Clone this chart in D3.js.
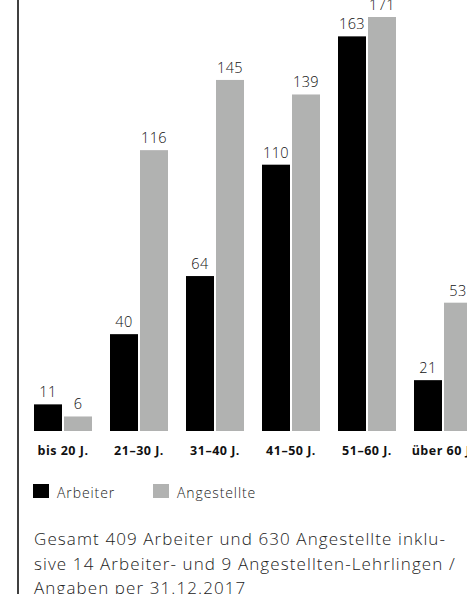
<!DOCTYPE html>
<html>
<head>
<meta charset="utf-8">
<script src="https://cdn.jsdelivr.net/npm/d3@7"></script>
<style>
  html, body { margin: 0; padding: 0; background: #fff; overflow: hidden; }
  svg { display: block; font-family: "Open Sans", sans-serif; }
</style>
</head>
<body>
<div id="chart"></div>
<script>
// chart data
var categories = ['bis 20 J.', '21–30 J.', '31–40 J.', '41–50 J.', '51–60 J.', 'über 60 J.'];
var seriesNames = ['Arbeiter', 'Angestellte'];
var arbeiter = [11, 40, 64, 110, 163, 21];
var angestellte = [6, 116, 145, 139, 171, 53];
var footnote = [
    'Gesamt 409 Arbeiter und 630 Angestellte inklu-',
    'sive 14 Arbeiter- und 9 Angestellten-Lehrlingen /',
    'Angaben per 31.12.2017'
];

var w = 467;
var h = 594;
var colors = { Arbeiter: '#000000', Angestellte: '#b1b2b1' };

var svg = d3.select('#chart')
    .append('svg')
    .attr('width', w)
    .attr('height', h);

// left rule
svg.append('line')
    .attr('x1', 18).attr('x2', 18)
    .attr('y1', 0).attr('y2', h)
    .attr('stroke', '#000')
    .attr('stroke-width', 1.5);

// scales
var x0 = d3.scaleBand()
    .domain(categories)
    .range([34, 472])
    .paddingInner(18 / 76)
    .paddingOuter(0);

var x1 = d3.scaleBand()
    .domain(seriesNames)
    .range([0, x0.bandwidth()])
    .paddingInner(1 / 15);

var y = d3.scaleLinear()
    .domain([0, 171])
    .range([431, 17]);

// rows for grouped bars
var rows = categories.map(function (c, i) {
    return {
        cat: c,
        values: [
            { key: 'Arbeiter', value: arbeiter[i] },
            { key: 'Angestellte', value: angestellte[i] }
        ]
    };
});

var groups = svg.append('g')
    .selectAll('g')
    .data(rows)
    .enter()
    .append('g')
    .attr('transform', function (d) { return 'translate(' + x0(d.cat) + ',0)'; });

groups.selectAll('rect')
    .data(function (d) { return d.values; })
    .enter()
    .append('rect')
    .attr('x', function (d) { return x1(d.key); })
    .attr('y', function (d) { return y(d.value); })
    .attr('width', x1.bandwidth())
    .attr('height', function (d) { return y(0) - y(d.value); })
    .attr('fill', function (d) { return colors[d.key]; });

groups.selectAll('text.val')
    .data(function (d) { return d.values; })
    .enter()
    .append('text')
    .attr('class', 'val')
    .attr('x', function (d) { return x1(d.key) + x1.bandwidth() / 2; })
    .attr('y', function (d) { return y(d.value) - 7; })
    .attr('text-anchor', 'middle')
    .attr('font-size', 14.5)
    .attr('font-weight', 300)
    .attr('letter-spacing', 0.4)
    .attr('fill', '#111')
    .text(function (d) { return d.value; });

// category axis
var xAxis = svg.append('g')
    .attr('transform', 'translate(0,' + y(0) + ')')
    .call(d3.axisBottom(x0).tickSize(0).tickPadding(15));
xAxis.select('.domain').remove();
xAxis.selectAll('text')
    .attr('font-family', '"Open Sans", sans-serif')
    .attr('font-size', 12.5)
    .attr('font-weight', 700)
    .attr('letter-spacing', 0.5)
    .attr('fill', '#111');

// legend
var legendX = [33, 153];
var legend = svg.append('g')
    .selectAll('g')
    .data(seriesNames)
    .enter()
    .append('g')
    .attr('transform', function (d, i) { return 'translate(' + legendX[i] + ',484)'; });

legend.append('rect')
    .attr('width', 16)
    .attr('height', 14)
    .attr('fill', function (d) { return colors[d]; });

legend.append('text')
    .attr('x', 24)
    .attr('y', 13.5)
    .attr('font-size', 14)
    .attr('font-weight', 300)
    .attr('letter-spacing', 0.9)
    .attr('fill', '#222')
    .text(function (d) { return d; });

// footnote
svg.append('g')
    .selectAll('text')
    .data(footnote)
    .enter()
    .append('text')
    .attr('x', 34)
    .attr('y', function (d, i) { return 545 + i * 24.5; })
    .attr('font-size', 17)
    .attr('font-weight', 300)
    .attr('letter-spacing', 1.1)
    .attr('fill', '#222')
    .text(function (d) { return d; });
</script>
</body>
</html>
